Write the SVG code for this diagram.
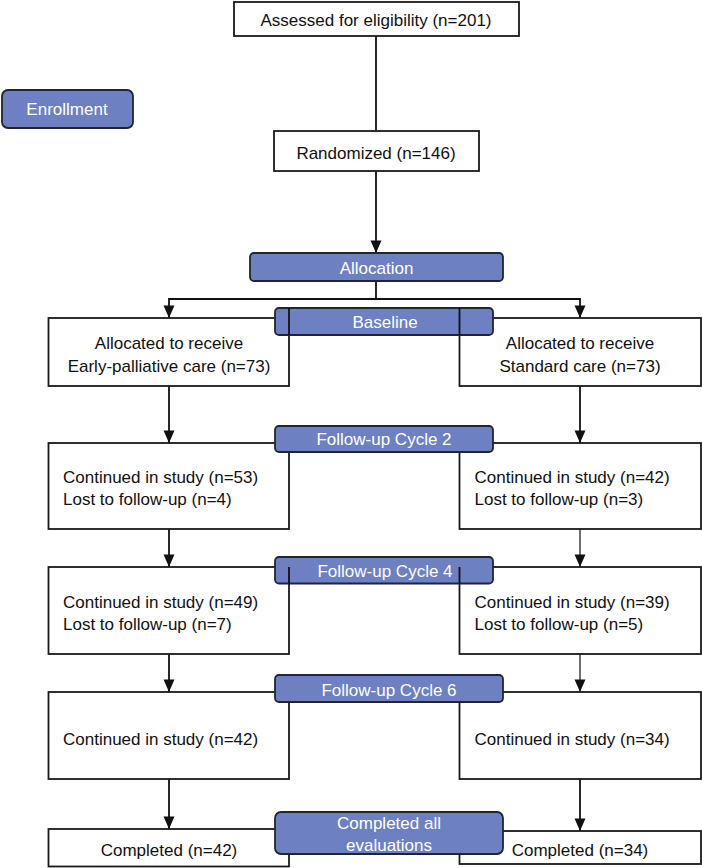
<svg xmlns="http://www.w3.org/2000/svg" width="702" height="868" viewBox="0 0 702 868">
<defs>
<marker id="arrd" markerUnits="userSpaceOnUse" markerWidth="12" markerHeight="14" viewBox="-6 -13 12 14" refX="0" refY="0" orient="0">
<path d="M-5.5,-12.5 L5.5,-12.5 L0,0 Z" fill="#111"/>
</marker>
</defs>
<style>
.box{fill:#fff;stroke:#1a1a1a;stroke-width:1.8}
.lab{fill:#6d80c2;stroke:#1f2535;stroke-width:1.8}
.t{font-family:"Liberation Sans",Arial,sans-serif;font-size:17px;fill:#111}
.tc{text-anchor:middle}
.w{font-family:"Liberation Sans",Arial,sans-serif;font-size:17px;fill:#fff;text-anchor:middle}
.c{fill:none;stroke:#111;stroke-width:1.8}
.c2{fill:none;stroke:#111;stroke-width:1.2}
</style>
<rect width="702" height="868" fill="#fff"/>
<g id="connectors">
<line class="c" x1="376" y1="36" x2="376" y2="131"/>
<line class="c" x1="376" y1="171" x2="376" y2="253" marker-end="url(#arrd)"/>
<line class="c" x1="376" y1="281" x2="376" y2="299"/>
<polyline class="c" points="169,318 169,299 580,299 580,318" marker-start="url(#arrd)" marker-end="url(#arrd)"/>
<line class="c" x1="169" y1="386" x2="169" y2="443" marker-end="url(#arrd)"/>
<line class="c" x1="580" y1="386" x2="580" y2="443" marker-end="url(#arrd)"/>
<line class="c" x1="169" y1="529" x2="169" y2="567" marker-end="url(#arrd)"/>
<line class="c2" x1="580" y1="529" x2="580" y2="567" marker-end="url(#arrd)"/>
<line class="c" x1="169" y1="654" x2="169" y2="692" marker-end="url(#arrd)"/>
<line class="c2" x1="580" y1="654" x2="580" y2="692" marker-end="url(#arrd)"/>
<line class="c" x1="169" y1="779" x2="169" y2="829" marker-end="url(#arrd)"/>
<line class="c" x1="580" y1="779" x2="580" y2="831" marker-end="url(#arrd)"/>
</g>
<g id="assessed">
<rect class="box" x="234" y="2" width="285" height="34"/>
<text class="t tc" x="376" y="26">Assessed for eligibility (n=201)</text>
</g>
<g id="enrollment">
<rect class="lab" x="2" y="90" width="131" height="38" rx="6"/>
<text class="w" x="67" y="115">Enrollment</text>
</g>
<g id="randomized">
<rect class="box" x="274" y="131" width="205" height="40"/>
<text class="t tc" x="376" y="158.5">Randomized (n=146)</text>
</g>
<g id="allocation">
<rect class="lab" x="250" y="253" width="253" height="28" rx="4"/>
<text class="w" x="376.5" y="273.5">Allocation</text>
</g>
<g id="alloc-left">
<rect class="box" x="48.5" y="318" width="240.5" height="68"/>
<text class="t tc" x="169" y="349">Allocated to receive</text>
<text class="t tc" x="169" y="372">Early-palliative care (n=73)</text>
</g>
<g id="alloc-right">
<rect class="box" x="459.5" y="318" width="241.5" height="68"/>
<text class="t tc" x="580" y="349">Allocated to receive</text>
<text class="t tc" x="580" y="372">Standard care (n=73)</text>
</g>
<g id="baseline">
<rect class="lab" x="275" y="308" width="218" height="27" rx="4"/>
<text class="w" x="385" y="328">Baseline</text>
<line class="c" x1="289" y1="308" x2="289" y2="335"/>
<line class="c" x1="459.5" y1="308" x2="459.5" y2="335"/>
</g>
<g id="fu2-left">
<rect class="box" x="48.5" y="443" width="240.5" height="86"/>
<text class="t" x="63" y="482.5">Continued in study (n=53)</text>
<text class="t" x="63" y="505">Lost to follow-up (n=4)</text>
</g>
<g id="fu2-right">
<rect class="box" x="459.5" y="443" width="241.5" height="86"/>
<text class="t" x="474.5" y="482.5">Continued in study (n=42)</text>
<text class="t" x="474.5" y="505">Lost to follow-up (n=3)</text>
</g>
<g id="fu2-label">
<rect class="lab" x="275" y="426" width="218" height="26" rx="4"/>
<text class="w" x="384" y="445">Follow-up Cycle 2</text>
</g>
<g id="fu4-left">
<rect class="box" x="48.5" y="567" width="240.5" height="87"/>
<text class="t" x="63" y="608">Continued in study (n=49)</text>
<text class="t" x="63" y="629.5">Lost to follow-up (n=7)</text>
</g>
<g id="fu4-right">
<rect class="box" x="459.5" y="567" width="241.5" height="87"/>
<text class="t" x="474.5" y="608">Continued in study (n=39)</text>
<text class="t" x="474.5" y="629.5">Lost to follow-up (n=5)</text>
</g>
<g id="fu4-label">
<rect class="lab" x="275" y="557" width="218" height="26.5" rx="4"/>
<text class="w" x="385" y="577">Follow-up Cycle 4</text>
<line class="c" x1="289" y1="567" x2="289" y2="583.5"/>
<line class="c" x1="459.5" y1="567" x2="459.5" y2="583.5"/>
</g>
<g id="fu6-left">
<rect class="box" x="48.5" y="692" width="240.5" height="87"/>
<text class="t" x="63" y="745">Continued in study (n=42)</text>
</g>
<g id="fu6-right">
<rect class="box" x="459.5" y="692" width="241.5" height="87"/>
<text class="t" x="474.5" y="745">Continued in study (n=34)</text>
</g>
<g id="fu6-label">
<rect class="lab" x="275" y="675" width="228" height="27" rx="4"/>
<text class="w" x="389" y="695.5">Follow-up Cycle 6</text>
</g>
<g id="done-left">
<rect class="box" x="48.5" y="829" width="240.5" height="37.5"/>
<text class="t tc" x="169" y="856">Completed (n=42)</text>
</g>
<g id="done-right">
<rect class="box" x="459.5" y="831" width="241.5" height="33"/>
<text class="t tc" x="580" y="856">Completed (n=34)</text>
</g>
<g id="done-label">
<rect class="lab" x="275" y="812" width="228" height="42" rx="6"/>
<text class="w" x="389" y="829">Completed all</text>
<text class="w" x="389" y="851">evaluations</text>
</g>
</svg>
